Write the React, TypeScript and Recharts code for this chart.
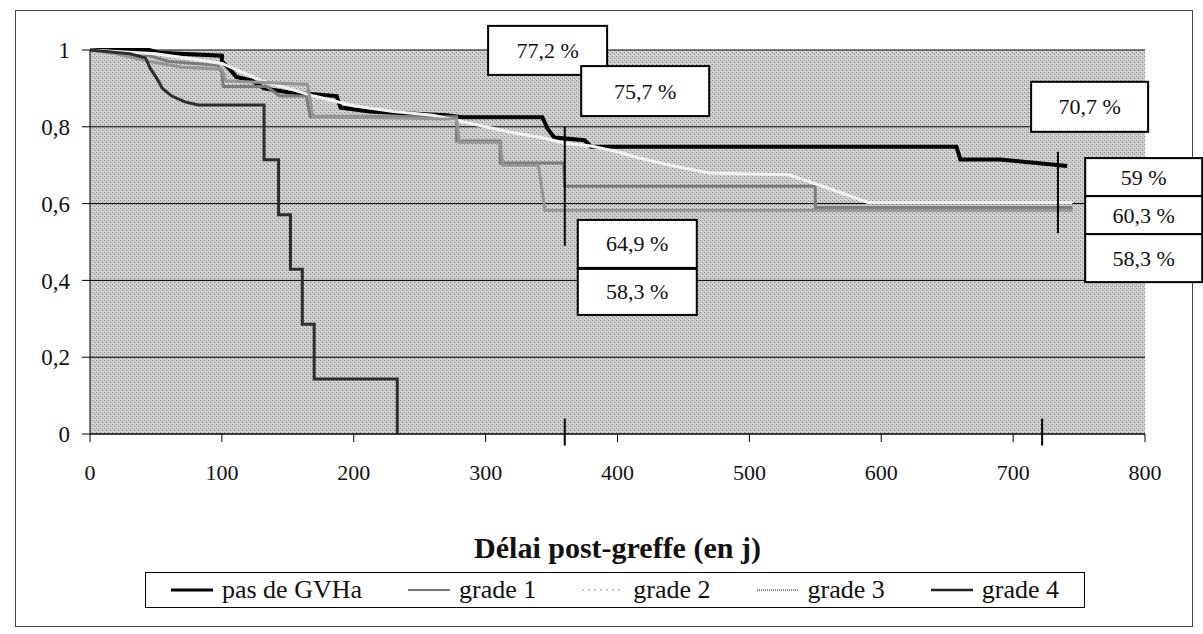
import React from 'react'
import {
  LineChart, Line, XAxis, YAxis, CartesianGrid, ReferenceLine, ReferenceDot, Legend
} from 'recharts'

// survie par grade de GVHa (courbes de Kaplan-Meier)
const X_TICKS = [0, 100, 200, 300, 400, 500, 600, 700, 800]
const Y_TICKS = [0, 0.2, 0.4, 0.6, 0.8, 1]

const pasDeGVHa = [
  { j: 0, s: 1 }, { j: 45, s: 1 }, { j: 52, s: 0.993 }, { j: 100, s: 0.985 }, { j: 100, s: 0.97 },
  { j: 106, s: 0.95 }, { j: 111, s: 0.93 }, { j: 123, s: 0.92 }, { j: 132, s: 0.9 }, { j: 150, s: 0.89 },
  { j: 187, s: 0.88 }, { j: 190, s: 0.85 }, { j: 212, s: 0.84 }, { j: 270, s: 0.83 }, { j: 282, s: 0.825 },
  { j: 343, s: 0.825 }, { j: 347, s: 0.795 }, { j: 352, s: 0.772 }, { j: 375, s: 0.765 }, { j: 380, s: 0.748 },
  { j: 657, s: 0.748 }, { j: 660, s: 0.715 }, { j: 690, s: 0.715 }, { j: 741, s: 0.698 },
]

const grade1 = [
  { j: 0, s: 1 }, { j: 40, s: 0.99 }, { j: 60, s: 0.97 }, { j: 97, s: 0.96 }, { j: 100, s: 0.94 },
  { j: 101, s: 0.905 }, { j: 134, s: 0.905 }, { j: 144, s: 0.88 }, { j: 164, s: 0.88 }, { j: 167, s: 0.826 },
  { j: 278, s: 0.826 }, { j: 278, s: 0.763 }, { j: 311, s: 0.763 }, { j: 311, s: 0.706 }, { j: 359, s: 0.706 },
  { j: 360, s: 0.645 }, { j: 550, s: 0.645 }, { j: 550, s: 0.59 }, { j: 745, s: 0.59 },
]

const grade2 = [
  { j: 0, s: 1 }, { j: 50, s: 0.99 }, { j: 80, s: 0.975 }, { j: 100, s: 0.965 }, { j: 110, s: 0.95 },
  { j: 130, s: 0.92 }, { j: 150, s: 0.9 }, { j: 170, s: 0.88 }, { j: 200, s: 0.855 }, { j: 230, s: 0.84 },
  { j: 260, s: 0.83 }, { j: 280, s: 0.815 }, { j: 300, s: 0.8 }, { j: 320, s: 0.785 }, { j: 345, s: 0.77 },
  { j: 360, s: 0.757 }, { j: 380, s: 0.75 }, { j: 400, s: 0.735 }, { j: 415, s: 0.72 }, { j: 440, s: 0.7 },
  { j: 470, s: 0.68 }, { j: 530, s: 0.675 }, { j: 560, s: 0.64 }, { j: 590, s: 0.603 }, { j: 745, s: 0.603 },
]

const grade3 = [
  { j: 0, s: 1 }, { j: 20, s: 0.99 }, { j: 45, s: 0.97 }, { j: 70, s: 0.955 }, { j: 100, s: 0.95 },
  { j: 103, s: 0.92 }, { j: 165, s: 0.91 }, { j: 169, s: 0.826 }, { j: 278, s: 0.82 }, { j: 280, s: 0.76 },
  { j: 311, s: 0.76 }, { j: 313, s: 0.7 }, { j: 340, s: 0.7 }, { j: 345, s: 0.583 }, { j: 745, s: 0.583 },
]

const grade4 = [
  { j: 0, s: 1 }, { j: 30, s: 0.99 }, { j: 42, s: 0.98 }, { j: 46, s: 0.95 }, { j: 50, s: 0.93 },
  { j: 55, s: 0.9 }, { j: 62, s: 0.88 }, { j: 72, s: 0.865 }, { j: 82, s: 0.857 }, { j: 132, s: 0.857 },
  { j: 132, s: 0.714 }, { j: 143, s: 0.714 }, { j: 143, s: 0.571 }, { j: 152, s: 0.571 }, { j: 152, s: 0.429 },
  { j: 161, s: 0.429 }, { j: 161, s: 0.286 }, { j: 170, s: 0.286 }, { j: 170, s: 0.143 }, { j: 233, s: 0.143 },
  { j: 233, s: 0 },
]

// étiquettes à 12 et 24 mois
const LABELS = [
  { text: '77,2 %', j: 347, s: 0.999, w: 119, h: 49 },
  { text: '75,7 %', j: 421, s: 0.893, w: 128, h: 50 },
  { text: '64,9 %', j: 415, s: 0.495, w: 119, h: 48 },
  { text: '58,3 %', j: 415, s: 0.37, w: 119, h: 46 },
  { text: '70,7 %', j: 758, s: 0.852, w: 117, h: 50 },
  { text: '59 %', j: 799, s: 0.669, w: 117, h: 38 },
  { text: '60,3 %', j: 799, s: 0.57, w: 117, h: 38 },
  { text: '58,3 %', j: 799, s: 0.458, w: 117, h: 48 },
]

const SERIES = [
  { name: 'pas de GVHa', data: pasDeGVHa, color: '#000000', width: 4, legendColor: '#000', legendWidth: 3, legendDash: undefined },
  { name: 'grade 1', data: grade1, color: '#7c7c7c', width: 3, legendColor: '#777', legendWidth: 2, legendDash: undefined },
  { name: 'grade 2', data: grade2, color: '#f2f2f2', width: 3, legendColor: '#c4c4c4', legendWidth: 2, legendDash: '2 4' },
  { name: 'grade 3', data: grade3, color: '#959595', width: 3, legendColor: '#888', legendWidth: 2, legendDash: '1 1' },
  { name: 'grade 4', data: grade4, color: '#2e2e2e', width: 3, legendColor: '#222', legendWidth: 2.5, legendDash: undefined },
]

const FONT = '"Liberation Serif", "Times New Roman", serif'

const LabelBox = ({ cx, cy, text, w, h }: any) => (
  <g>
    <rect x={cx - w / 2} y={cy - h / 2} width={w} height={h} fill="#fff" stroke="#000" strokeWidth={2} />
    <text x={cx} y={cy} textAnchor="middle" dominantBaseline="central" fontFamily={FONT} fontSize={22} fill="#111">
      {text}
    </text>
  </g>
)

const LegendBox = () => (
  <div style={{
    border: '1.5px solid #000', background: '#fff', height: 36, display: 'flex', alignItems: 'center',
    justifyContent: 'center', gap: 46, fontFamily: FONT, fontSize: 26, color: '#111', boxSizing: 'border-box'
  }}>
    {SERIES.map((s) => (
      <span key={s.name} style={{ display: 'flex', alignItems: 'center', gap: 9 }}>
        <svg width={42} height={6}>
          <line x1={0} y1={3} x2={42} y2={3} stroke={s.legendColor}
            strokeWidth={s.legendWidth} strokeDasharray={s.legendDash} />
        </svg>
        {s.name}
      </span>
    ))}
  </div>
)

export default function App() {
  return (
    <div style={{ position: 'absolute', left: 0, top: 0, width: 1203, height: 634, background: '#fff' }}>
      <div style={{ position: 'absolute', left: 15, top: 10, width: 1176, height: 615, border: '1px solid #444' }} />
      <LineChart width={1203} height={634} margin={{ top: 50, right: 58, bottom: 76, left: 30 }}
        style={{ position: 'absolute', left: 0, top: 0 }}>
        <defs>
          <pattern id="trame" width="4" height="4" patternUnits="userSpaceOnUse">
            <rect width="4" height="4" fill="#cbcbcb" />
            <rect x="0" y="0" width="1" height="1" fill="#8a8a8a" />
            <rect x="2" y="2" width="1" height="1" fill="#8a8a8a" />
            <rect x="1" y="3" width="1" height="1" fill="#e8e8e8" />
          </pattern>
        </defs>
        <CartesianGrid vertical={false} stroke="#000" strokeWidth={1} fill="url(#trame)" fillOpacity={1} />
        <XAxis dataKey="j" type="number" domain={[0, 800]} ticks={X_TICKS} allowDuplicatedCategory={false}
          stroke="#000" tickSize={8} tickMargin={22} height={124}
          tick={{ fill: '#111', fontSize: 22, fontFamily: FONT }}
          label={{ value: 'Délai post-greffe (en j)', position: 'insideBottom', offset: 0,
            style: { fontFamily: FONT, fontSize: 30, fontWeight: 'bold', fill: '#111' } }} />
        <YAxis type="number" domain={[0, 1]} ticks={Y_TICKS} width={60} stroke="#000" tickSize={8} tickMargin={12}
          tickFormatter={(v: number) => String(v).replace('.', ',')}
          tick={{ fill: '#111', fontSize: 23, fontFamily: FONT }} />
        {SERIES.map((s) => (
          <Line key={s.name} data={s.data} dataKey="s" name={s.name} type="linear" stroke={s.color}
            strokeWidth={s.width} dot={false} activeDot={false} isAnimationActive={false} />
        ))}
        {/* repères 12 et 24 mois */}
        <ReferenceLine segment={[{ x: 360, y: 0.8 }, { x: 360, y: 0.49 }]} stroke="#000" strokeWidth={2} ifOverflow="visible" />
        <ReferenceLine segment={[{ x: 734, y: 0.735 }, { x: 734, y: 0.523 }]} stroke="#000" strokeWidth={2} ifOverflow="visible" />
        <ReferenceLine segment={[{ x: 360, y: 0.04 }, { x: 360, y: -0.03 }]} stroke="#000" strokeWidth={2} ifOverflow="visible" />
        <ReferenceLine segment={[{ x: 722, y: 0.04 }, { x: 722, y: -0.03 }]} stroke="#000" strokeWidth={2} ifOverflow="visible" />
        {LABELS.map((l, i) => (
          <ReferenceDot key={i} x={l.j} y={l.s} ifOverflow="visible"
            shape={(p: any) => <LabelBox {...p} text={l.text} w={l.w} h={l.h} />} />
        ))}
        <Legend verticalAlign="middle" layout="horizontal" content={<LegendBox />}
          wrapperStyle={{ position: 'absolute', left: 145, top: 572, width: 940, height: 36 }} />
      </LineChart>
    </div>
  )
}
